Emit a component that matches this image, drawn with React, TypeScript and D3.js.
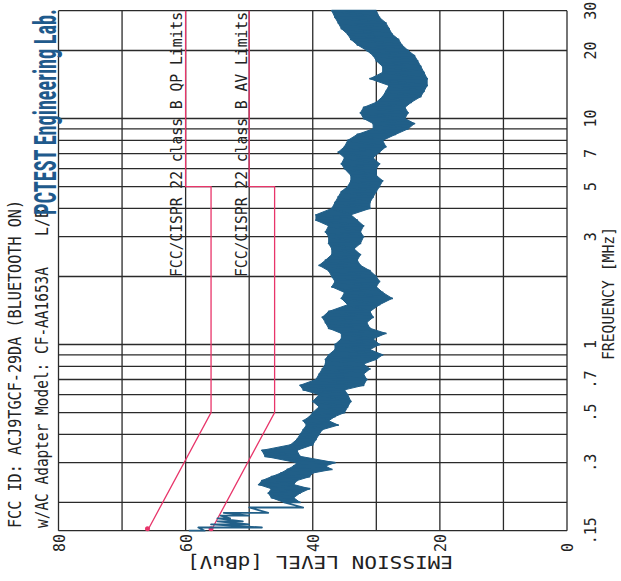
import React, { useLayoutEffect, useRef, useState } from "react";
import * as d3 from "d3";

// ---- data ----
const freqMHz = [
  0.15, 0.155, 0.16, 0.165, 0.17, 0.175, 0.18, 0.19, 0.2, 0.21, 0.22, 0.23, 0.24, 0.25, 0.26, 0.27, 0.28, 0.29,
  0.3, 0.32, 0.34, 0.36, 0.38, 0.4, 0.42, 0.44, 0.46, 0.48, 0.5, 0.53, 0.56, 0.6, 0.63, 0.66, 0.7, 0.74, 0.78,
  0.82, 0.86, 0.9, 0.95, 1.0, 1.06, 1.12, 1.18, 1.25, 1.32, 1.4, 1.5, 1.6, 1.7, 1.8, 1.9, 2.0, 2.12, 2.24, 2.36,
  2.5, 2.65, 2.8, 3.0, 3.15, 3.35, 3.55, 3.75, 4.0, 4.25, 4.5, 4.75, 5.0, 5.3, 5.6, 6.0, 6.3, 6.7, 7.1, 7.5, 8.0,
  8.5, 9.0, 9.5, 10.0, 10.6, 11.2, 11.8, 12.5, 13.2, 14.0, 15.0, 16.0, 17.0, 18.0, 19.0, 20.0, 21.2, 22.4, 23.6,
  25.0, 26.5, 28.0, 30.0,
];
const levelMax = [
  59.5, 58, 56, 55, 55, 54.5, 54, 50, 44.5, 46.5, 47, 46.5, 48.5, 48, 46.5, 45, 44, 43,
  42.5, 47.5, 48, 43.5, 42.5, 42, 41.5, 41, 41.5, 40.5, 40, 39, 40, 39, 41.5, 42, 39.5, 39, 38.5,
  38, 38, 37.5, 36.5, 36.5, 35.5, 35.5, 37.5, 38, 38.5, 37.5, 34.5, 35.5, 35, 37, 36.5, 37, 37.5, 39, 38,
  37, 37, 37.5, 37.5, 38, 37.5, 39.5, 39.5, 37, 36.5, 36, 35.5, 34.5, 34, 34, 35, 35.5, 35, 36, 35, 34.5,
  33, 30.5, 30.5, 32, 32.5, 32, 30, 29, 28.5, 28, 31, 29, 29, 30, 30.5, 31.5, 33, 34, 34.5,
  35.5, 36, 36.5, 37,
];
const levelMin = [
  57, 48, 50, 51, 53, 50, 47, 41.5, 42, 43, 42, 40.5, 43, 42.5, 40.5, 40, 37, 38,
  36.5, 42, 42.5, 40, 39.5, 39, 38.5, 36, 37.5, 36.5, 35, 34.5, 34, 34.5, 35, 32, 31.5, 32, 31,
  32, 30, 29, 31, 29.5, 30.5, 28.5, 31, 31.5, 30.5, 31, 29.5, 27.5, 29, 30, 29.5, 30, 31, 32.5, 33,
  32.5, 33.5, 32.5, 32, 32.5, 32, 33, 34, 31, 31, 30.5, 30, 29.5, 29, 30, 30, 29.5, 30.5, 29.5, 28.5, 29,
  27, 25, 24, 25.5, 25, 25.5, 24.5, 23, 22.5, 22, 22, 22.5, 23, 23.5, 24, 25, 26, 26.5, 27.5,
  28, 28.5, 29.5, 30,
];

const qpLimitFreq = [0.15, 0.5, 5, 5, 30];
const qpLimitLevel = [66, 56, 56, 60, 60];
const avLimitFreq = [0.15, 0.5, 5, 5, 30];
const avLimitLevel = [56, 46, 46, 50, 50];

const levelTicks = [80, 60, 40, 20, 0];
const levelGrid = [0, 10, 20, 30, 40, 50, 60, 70, 80];
const freqTickValues = [0.15, 0.3, 0.5, 0.7, 1, 3, 5, 7, 10, 20, 30];
const freqTickLabels = [".15", ".3", ".5", ".7", "1", "3", "5", "7", "10", "20", "30"];
const freqGrid = [0.15, 0.2, 0.3, 0.4, 0.5, 0.6, 0.7, 0.8, 0.9, 1, 2, 3, 4, 5, 6, 7, 8, 9, 10, 20, 30];

const titleLine1 = "FCC ID: ACJ9TGCF-29DA (BLUETOOTH ON)";
const titleLine2 = "w/AC Adapter Model: CF-AA1653A";
const titleTag = "L/B";
const labName = "PCTEST Engineering Lab.";
const qpLabel = "FCC/CISPR 22 class B QP Limits";
const avLabel = "FCC/CISPR 22 class B AV Limits";
const levelTitle = "EMISSION LEVEL [dBuV]";
const freqTitle = "FREQUENCY [MHz]";

// ---- layout ----
const W = 621;
const H = 581;
const MONO = "'DejaVu Sans Mono', 'Liberation Mono', monospace";
const RED = "#e8356a";
const TRACE = "#215f88";
const GRID = "#2a2a2a";
const LAB_LEN = 206;

export default function App() {
  const labRef = useRef<SVGTextElement>(null);
  const [labScale, setLabScale] = useState(0.55);
  useLayoutEffect(() => {
    if (labRef.current) {
      const w = labRef.current.getComputedTextLength();
      if (w > 0) setLabScale(LAB_LEN / w);
    }
  }, []);

  const x = d3.scaleLinear().domain([80, 0]).range([58.5, 567]);
  const y = d3.scaleLog().domain([0.15, 30]).range([530.7, 10.7]);

  const idx = freqMHz.map((_, i) => i);
  const areaIdx = idx.filter((i) => freqMHz[i] >= 0.2);
  const area = d3
    .area<number>()
    .y((i) => y(freqMHz[i]))
    .x0((i) => x(levelMax[i]))
    .x1((i) => x(levelMin[i]));

  const zig: [number, number][] = [];
  idx.forEach((i) => {
    zig.push([x(levelMax[i]), y(freqMHz[i])]);
    zig.push([x(levelMin[i]), y(freqMHz[i])]);
  });
  const zigLine = d3.line();

  const limitLine = (fs: number[], ls: number[]) =>
    d3.line()(fs.map((f, i) => [x(ls[i]), y(f)] as [number, number])) || "";

  const rot = (tx: number, ty: number, a: number) => `translate(${tx},${ty}) rotate(${a})`;

  return (
    <svg
      width={W}
      height={H}
      style={{ position: "absolute", left: 0, top: 0, background: "#fff" }}
      xmlns="http://www.w3.org/2000/svg"
    >
      <rect x={0} y={0} width={W} height={H} fill="#fff" />
      {/* grid */}
      <g stroke={GRID} strokeWidth={1.3} fill="none">
        {levelGrid.map((v) => (
          <line key={"v" + v} x1={x(v)} x2={x(v)} y1={y(30)} y2={y(0.15)} />
        ))}
        {freqGrid.map((f) => (
          <line key={"h" + f} x1={x(80)} x2={x(0)} y1={y(f)} y2={y(f)} />
        ))}
      </g>

      {/* limit lines */}
      <g stroke={RED} strokeWidth={1.3} fill="none">
        <path d={limitLine(qpLimitFreq, qpLimitLevel)} />
        <path d={limitLine(avLimitFreq, avLimitLevel)} />
      </g>
      <circle cx={x(qpLimitLevel[0])} cy={y(qpLimitFreq[0]) - 2} r={2.5} fill={RED} />
      <circle cx={x(avLimitLevel[0])} cy={y(avLimitFreq[0]) - 2} r={2.5} fill={RED} />

      {/* emission trace */}
      <path d={area(areaIdx) || ""} fill={TRACE} stroke={TRACE} strokeWidth={1} strokeLinejoin="round" />
      <path d={zigLine(zig) || ""} fill="none" stroke={TRACE} strokeWidth={1.8} strokeLinejoin="round" />

      {/* limit labels */}
      <text transform={rot(182, 277, -90)} fontFamily={MONO} fontSize={15} textLength={265} lengthAdjust="spacingAndGlyphs" fill="#222">
        {qpLabel}
      </text>
      <text transform={rot(247, 277, -90)} fontFamily={MONO} fontSize={15} textLength={265} lengthAdjust="spacingAndGlyphs" fill="#222">
        {avLabel}
      </text>

      {/* title texts */}
      <text transform={rot(21, 528, -90)} fontFamily={MONO} fontSize={17} textLength={328} lengthAdjust="spacingAndGlyphs" fill="#222">
        {titleLine1}
      </text>
      <text transform={rot(48, 528, -90)} fontFamily={MONO} fontSize={17} textLength={261} lengthAdjust="spacingAndGlyphs" fill="#222">
        {titleLine2}
      </text>
      <text transform={rot(48, 236, -90)} fontFamily={MONO} fontSize={17} textLength={27} lengthAdjust="spacingAndGlyphs" fill="#222">
        {titleTag}
      </text>
      <text
        ref={labRef}
        transform={`${rot(56, 215, -90)} scale(${labScale},1)`}
        fontFamily="'Liberation Sans Narrow', 'Roboto Condensed', 'Liberation Sans', Arial, sans-serif"
        fontWeight="bold"
        fontSize={31}
        fill="#1f5a8c"
      >
        {labName}
      </text>

      {/* level axis labels */}
      {levelTicks.map((v) => (
        <text key={"lt" + v} transform={rot(x(v) + 6, 552, -90)} fontFamily={MONO} fontSize={15} fill="#222">
          {String(v)}
        </text>
      ))}
      <text
        transform={rot(320, 556, 180)}
        textAnchor="middle"
        fontFamily={MONO}
        fontSize={18}
        textLength={266}
        lengthAdjust="spacingAndGlyphs"
        fill="#222"
      >
        {levelTitle}
      </text>

      {/* frequency axis labels */}
      {freqTickValues.map((f, i) => (
        <text key={"ft" + f} transform={rot(596, y(f), -90)} textAnchor="middle" fontFamily={MONO} fontSize={15} fill="#222">
          {freqTickLabels[i]}
        </text>
      ))}
      <text
        transform={rot(614, 360, -90)}
        fontFamily={MONO}
        fontSize={15}
        textLength={133}
        lengthAdjust="spacingAndGlyphs"
        fill="#222"
      >
        {freqTitle}
      </text>
    </svg>
  );
}
